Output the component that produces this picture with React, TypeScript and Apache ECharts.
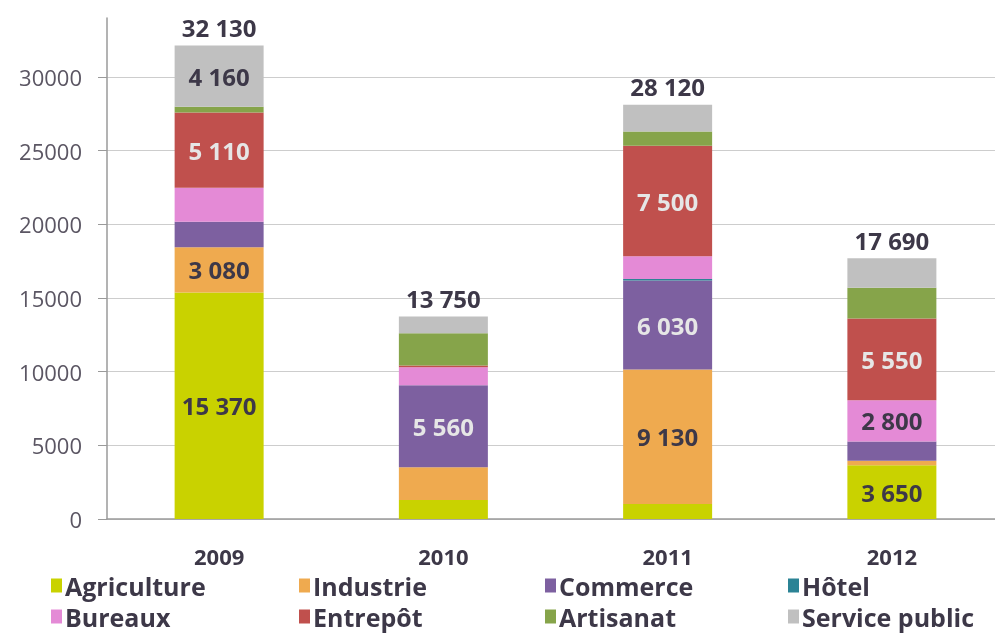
import React, { useEffect, useRef } from "react";
import * as echarts from "echarts";

const years = ["2009", "2010", "2011", "2012"];
const seriesNames = ["Agriculture", "Industrie", "Commerce", "Hôtel", "Bureaux", "Entrepôt", "Artisanat", "Service public"];
const agriculture = [15370, 1290, 1020, 3650];
const industrie = [3080, 2230, 9130, 300];
const commerce = [1730, 5560, 6030, 1310];
const hotel = [0, 0, 100, 0];
const bureaux = [2300, 1210, 1550, 2800];
const entrepot = [5110, 120, 7500, 5550];
const artisanat = [380, 2190, 970, 2080];
const servicePublic = [4160, 1150, 1820, 2000];
const totals = [32130, 13750, 28120, 17690];
const yTicks = [0, 5000, 10000, 15000, 20000, 25000, 30000];

// which segments carry a printed value
const labelAgriculture = [true, false, false, true];
const labelIndustrie = [true, false, true, false];
const labelCommerce = [false, true, true, false];
const labelHotel = [false, false, false, false];
const labelBureaux = [false, false, false, true];
const labelEntrepot = [true, false, true, true];
const labelArtisanat = [false, false, false, false];
const labelService = [true, false, false, false];

const colors = ["#c9d200", "#efaa4f", "#7d60a0", "#2b8395", "#e48ad6", "#c0504d", "#86a44a", "#c0c0c0"];
const DARK = "#3d3848";
const LIGHT = "#e6e6e6";
const labelColors = [DARK, DARK, LIGHT, DARK, DARK, LIGHT, DARK, DARK];

const fmt = (v: number) => String(v).replace(/\B(?=(\d{3})+(?!\d))/g, " ");
const FONT = "'Open Sans', sans-serif";

export default function App() {
  const ref = useRef<HTMLDivElement>(null);
  useEffect(() => {
    if (!ref.current) return;
    const chart = echarts.init(ref.current, undefined, { renderer: "svg" });
    const values = [agriculture, industrie, commerce, hotel, bureaux, entrepot, artisanat, servicePublic];
    const flags = [labelAgriculture, labelIndustrie, labelCommerce, labelHotel, labelBureaux, labelEntrepot, labelArtisanat, labelService];
    const stackSeries = seriesNames.map((name, i) => ({
      name,
      type: "bar",
      stack: "total",
      barWidth: 89,
      barGap: "-100%",
      itemStyle: { color: colors[i] },
      label: {
        show: false,
        position: "inside",
        color: labelColors[i],
        fontFamily: FONT,
        fontWeight: "bold",
        fontSize: 24,
        formatter: (p: any) => fmt(p.value),
      },
      data: values[i].map((v, j) => (flags[i][j] ? { value: v, label: { show: true } } : { value: v })),
    }));
    const legendCols = [
      { left: 51, data: ["Agriculture", "Bureaux"] },
      { left: 299, data: ["Industrie", "Entrepôt"] },
      { left: 545, data: ["Commerce", "Artisanat"] },
      { left: 788, data: ["Hôtel", "Service public"] },
    ];
    chart.setOption({
      animation: false,
      color: colors,
      grid: { left: 107, right: -9, top: 18, bottom: 115, containLabel: false, outerBoundsMode: "none" },
      legend: legendCols.map((c) => ({
        orient: "vertical",
        left: c.left,
        top: 571,
        padding: 0,
        itemGap: 2,
        itemWidth: 11,
        itemHeight: 14,
        icon: "rect",
        selectedMode: false,
        data: c.data,
        textStyle: { fontFamily: FONT, fontWeight: "bold", fontSize: 25, lineHeight: 29, color: DARK, padding: [0, 0, 0, -2] },
      })),
      xAxis: {
        type: "category",
        data: years,
        axisLine: { lineStyle: { color: "#9a9a9a", width: 1.5 } },
        axisTick: { show: false },
        axisLabel: { fontFamily: FONT, fontWeight: "bold", fontSize: 22, lineHeight: 20, color: DARK, margin: 27 },
      },
      yAxis: {
        type: "value",
        min: 0,
        max: 34000,
        interval: 5000,
        axisLine: { show: true, lineStyle: { color: "#9a9a9a", width: 1.5 } },
        axisTick: { show: true, length: 9, lineStyle: { color: "#9a9a9a" }, customValues: yTicks },
        axisLabel: { fontFamily: FONT, fontSize: 22, color: "#5b5663", margin: 25, customValues: yTicks, formatter: (v: number) => String(v) },
        splitLine: { show: true, lineStyle: { color: "#cdcdcd", width: 1.2 } },
      },
      series: [
        ...stackSeries,
        {
          name: "Total",
          type: "bar",
          barWidth: 89,
          barGap: "-100%",
          silent: true,
          z: 10,
          itemStyle: { color: "transparent" },
          label: {
            show: true,
            position: "top",
            distance: 6,
            color: DARK,
            fontFamily: FONT,
            fontWeight: "bold",
            fontSize: 24,
            formatter: (p: any) => fmt(p.value),
          },
          data: totals,
        },
      ],
    });
    return () => chart.dispose();
  }, []);
  return <div ref={ref} style={{ position: "fixed", left: 0, top: 0, width: 995, height: 634 }} />;
}
